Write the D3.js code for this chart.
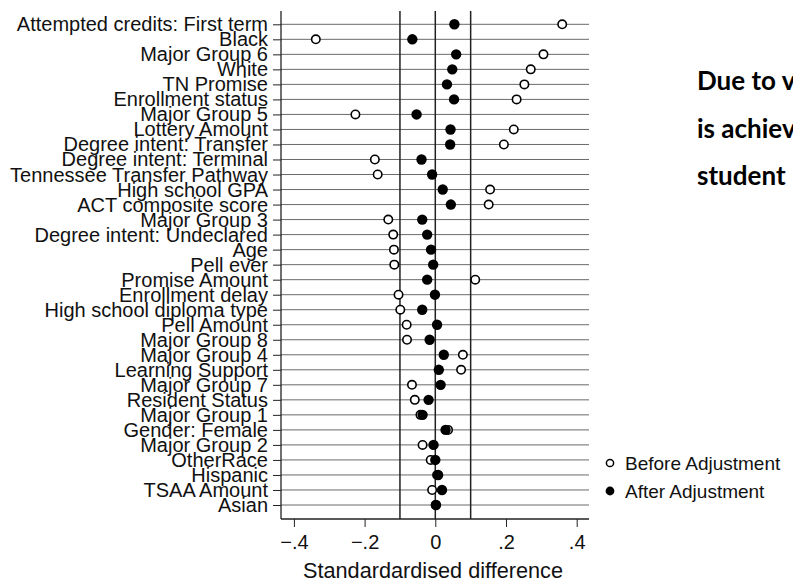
<!DOCTYPE html>
<html>
<head>
<meta charset="utf-8">
<script src="https://cdn.jsdelivr.net/npm/d3@7"></script>
<style>
  body { margin: 0; background: #fff; }
  svg { display: block; }
</style>
</head>
<body>
<svg id="chart" width="793" height="583"></svg>
<script>
// covariates, top to bottom
const covariates = [
  'Attempted credits: First term', 'Black', 'Major Group 6', 'White', 'TN Promise',
  'Enrollment status', 'Major Group 5', 'Lottery Amount', 'Degree intent: Transfer',
  'Degree intent: Terminal', 'Tennessee Transfer Pathway', 'High school GPA',
  'ACT composite score', 'Major Group 3', 'Degree intent: Undeclared', 'Age',
  'Pell ever', 'Promise Amount', 'Enrollment delay', 'High school diploma type',
  'Pell Amount', 'Major Group 8', 'Major Group 4', 'Learning Support',
  'Major Group 7', 'Resident Status', 'Major Group 1', 'Gender: Female',
  'Major Group 2', 'OtherRace', 'Hispanic', 'TSAA Amount', 'Asian'
];
const beforeAdj = [
  0.359, -0.338, 0.306, 0.270, 0.252, 0.230, -0.226, 0.222, 0.194, -0.171, -0.163,
  0.155, 0.151, -0.133, -0.119, -0.117, -0.116, 0.113, -0.104, -0.099, -0.081,
  -0.080, 0.078, 0.073, -0.066, -0.058, -0.042, 0.036, -0.036, -0.013, 0.005,
  -0.009, 0.001
];
const afterAdj = [
  0.054, -0.065, 0.059, 0.048, 0.033, 0.053, -0.053, 0.043, 0.042, -0.039, -0.009,
  0.021, 0.044, -0.037, -0.023, -0.012, -0.006, -0.023, -0.001, -0.037, 0.005,
  -0.016, 0.024, 0.010, 0.015, -0.019, -0.036, 0.029, -0.005, 0.000, 0.008,
  0.019, 0.002
];
const xTicks = [-0.4, -0.2, 0, 0.2, 0.4];
const refLines = [-0.1, 0, 0.1];
const legendLabels = ['Before Adjustment', 'After Adjustment'];
const sideText = ['Due to v', 'is achiev', 'student'];

const svg = d3.select('#chart');
const plotL = 281, plotR = 589, plotT = 11, plotB = 519;
const sans = 'Liberation Sans, Arial, sans-serif';

const x = d3.scaleLinear().domain([-0.4365, 0.4348]).range([plotL, plotR]);
const y = d3.scalePoint().domain(covariates).range([24.3, 505]);

// horizontal grid lines
svg.append('g').selectAll('line')
  .data(covariates)
  .enter()
  .append('line')
  .attr('x1', plotL).attr('x2', plotR)
  .attr('y1', d => y(d)).attr('y2', d => y(d))
  .attr('stroke', '#6a6a6a')
  .attr('stroke-width', 1);

// reference lines
svg.append('g').selectAll('line')
  .data(refLines)
  .enter()
  .append('line')
  .attr('x1', d => x(d)).attr('x2', d => x(d))
  .attr('y1', plotT).attr('y2', plotB)
  .attr('stroke', '#222')
  .attr('stroke-width', 1.5);

// y axis
const yAxis = svg.append('g')
  .attr('transform', `translate(${plotL},0)`)
  .call(d3.axisLeft(y).tickSize(8).tickPadding(5).tickFormat(''));
yAxis.select('.domain').attr('d', `M0,${plotT}V${plotB}`).attr('stroke', '#222').attr('stroke-width', 1.3);
yAxis.selectAll('.tick line').attr('stroke', '#222');

svg.append('g').selectAll('text')
  .data(covariates)
  .enter()
  .append('text')
  .attr('x', 268)
  .attr('y', d => y(d) + 7)
  .attr('text-anchor', 'end')
  .style('font-family', sans)
  .style('font-size', '20px')
  .attr('fill', '#111')
  .text(d => d);

// x axis
const xAxis = svg.append('g')
  .attr('transform', `translate(0,${plotB})`)
  .call(d3.axisBottom(x).tickValues(xTicks).tickSize(8).tickPadding(8)
    .tickFormat(d => d === 0 ? '0' : d3.format('.1f')(d).replace('0.', '.')));
xAxis.select('.domain').attr('d', `M${plotL},0H${plotR}`).attr('stroke', '#222').attr('stroke-width', 1.3);
xAxis.selectAll('.tick line').attr('stroke', '#222');
xAxis.selectAll('.tick text')
  .style('font-family', sans)
  .style('font-size', '20px')
  .attr('fill', '#111');

svg.append('text')
  .attr('x', (plotL + plotR) / 2 - 2)
  .attr('y', 578)
  .attr('text-anchor', 'middle')
  .style('font-family', sans)
  .style('font-size', '21.7px')
  .attr('fill', '#111')
  .text('Standardardised difference');

// markers
svg.append('g').selectAll('circle')
  .data(beforeAdj)
  .enter()
  .append('circle')
  .attr('cx', d => x(d))
  .attr('cy', (d, i) => y(covariates[i]))
  .attr('r', 4.2)
  .attr('fill', '#fff')
  .attr('stroke', '#000')
  .attr('stroke-width', 1.6);

svg.append('g').selectAll('circle')
  .data(afterAdj)
  .enter()
  .append('circle')
  .attr('cx', d => x(d))
  .attr('cy', (d, i) => y(covariates[i]))
  .attr('r', 5.2)
  .attr('fill', '#000');

// legend
const legend = svg.append('g').selectAll('g')
  .data(legendLabels)
  .enter()
  .append('g')
  .attr('transform', (d, i) => `translate(610,${463 + i * 28})`);
legend.append('circle')
  .attr('r', (d, i) => i === 0 ? 3.6 : 4.4)
  .attr('fill', (d, i) => i === 0 ? '#fff' : '#000')
  .attr('stroke', '#000')
  .attr('stroke-width', (d, i) => i === 0 ? 1.5 : 0);
legend.append('text')
  .attr('x', 15)
  .attr('y', 7)
  .style('font-family', sans)
  .style('font-size', '19px')
  .attr('fill', '#111')
  .text(d => d);

// side text, clipped by the page edge
svg.append('g').selectAll('text')
  .data(sideText)
  .enter()
  .append('text')
  .attr('x', 697)
  .attr('y', (d, i) => 90 + i * 47.5)
  .style('font-family', 'Lato, sans-serif')
  .style('font-weight', 'bold')
  .style('font-size', '26px')
  .attr('fill', '#000')
  .text(d => d);
</script>
</body>
</html>
